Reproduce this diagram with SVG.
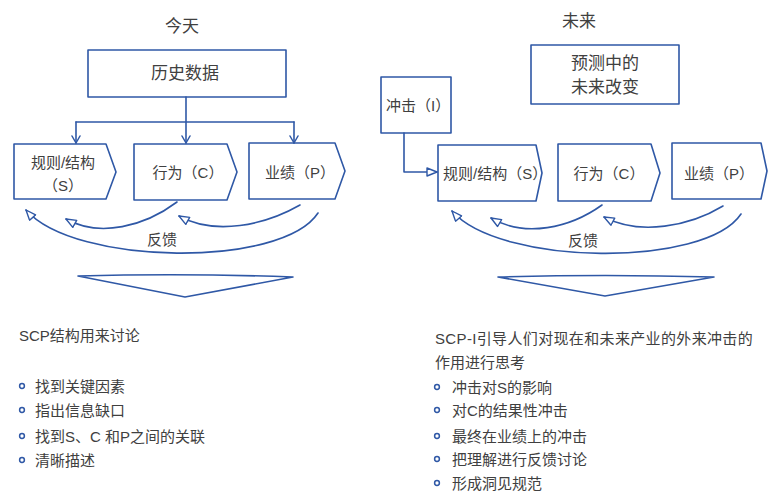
<svg xmlns="http://www.w3.org/2000/svg" width="774" height="498" viewBox="0 0 774 498">
<style>
  .shape { fill: #ffffff; stroke: #2f58a6; stroke-width: 1.6; stroke-linejoin: round; }
  .line { fill: none; stroke: #2f58a6; stroke-width: 1.6; stroke-linecap: round; stroke-linejoin: round; }
  .t { font-family: "Liberation Sans", "Noto Sans CJK SC", sans-serif; fill: #404040; }
  .f15 { font-size: 15px; }
  .f17 { font-size: 17px; }
  .mid { text-anchor: middle; }
  .dot { fill: #ffffff; stroke: #2f58a6; stroke-width: 1.5; }
</style>
<defs>
  <marker id="tri" viewBox="0 0 12 10" refX="11" refY="5" markerWidth="12" markerHeight="10" orient="auto" markerUnits="userSpaceOnUse">
    <path d="M1,1 L11,5 L1,9 Z" fill="#ffffff" stroke="#2f58a6" stroke-width="1.4" stroke-linejoin="round"/>
  </marker>
  <marker id="vee" viewBox="0 0 10 10" refX="9" refY="5" markerWidth="10" markerHeight="10" orient="auto" markerUnits="userSpaceOnUse">
    <path d="M2,1 L9,5 L2,9" fill="none" stroke="#2f58a6" stroke-width="1.5" stroke-linecap="round" stroke-linejoin="round"/>
  </marker>
</defs>
<rect width="774" height="498" fill="#ffffff"/>

<!-- Titles -->
<text class="t f17 mid" x="182" y="31.5">今天</text>
<text class="t f17 mid" x="579" y="26.5">未来</text>

<!-- Left diagram nodes -->
<g id="hist">
  <rect class="shape" x="88" y="50" width="198" height="47"/>
  <text class="t f17 mid" x="185" y="78.5">历史数据</text>
</g>
<g id="left-s">
  <path class="shape" d="M14,144 L106,144 L116,172 L106,199 L14,199 Z"/>
  <text class="t f15 mid" x="63" y="167.7">规则/结构</text>
  <text class="t f15 mid" x="63" y="190.7">（S）</text>
</g>
<g id="left-c">
  <path class="shape" d="M134,144 L227,144 L237,172 L227,200 L134,200 Z"/>
  <text class="t f15 mid" x="188" y="177.7">行为（C）</text>
</g>
<g id="left-p">
  <path class="shape" d="M249,143 L335,143 L345,171 L335,199 L249,199 Z"/>
  <text class="t f15 mid" x="300" y="177.7">业绩（P）</text>
</g>
<text class="t f15 mid" x="162" y="244.7">反馈</text>

<!-- Right diagram nodes -->
<g id="forecast">
  <rect class="shape" x="531" y="45" width="148" height="59"/>
  <text class="t f17 mid" x="605" y="68.5">预测中的</text>
  <text class="t f17 mid" x="605" y="92.5">未来改变</text>
</g>
<g id="impact">
  <rect class="shape" x="381" y="77" width="70" height="56"/>
  <text class="t f15" x="386" y="110.7">冲击（I）</text>
</g>
<g id="right-s">
  <path class="shape" d="M438,145 L536,145 L542,173 L536,201 L438,201 Z"/>
  <text class="t f15" x="443" y="178.7">规则/结构（S）</text>
</g>
<g id="right-c">
  <path class="shape" d="M558,144 L651,144 L660,173 L651,201 L558,201 Z"/>
  <text class="t f15 mid" x="609" y="178.7">行为（C）</text>
</g>
<g id="right-p">
  <path class="shape" d="M672,143 L761,143 L767,171 L761,199 L672,199 Z"/>
  <text class="t f15 mid" x="719" y="178.7">业绩（P）</text>
</g>
<text class="t f15 mid" x="583" y="245.7">反馈</text>

<!-- Connectors -->
<g id="connectors">
  <path class="line" d="M186,97 L186,143" marker-end="url(#vee)"/>
  <path class="line" d="M76,122 L294,122"/>
  <path class="line" d="M76,122 L76,143" marker-end="url(#vee)"/>
  <path class="line" d="M294,122 L294,143" marker-end="url(#vee)"/>
  <path class="line" d="M177,202 C145,226 100,238 66,219" marker-end="url(#tri)"/>
  <path class="line" d="M300,205 C265,225 215,236 179,216" marker-end="url(#tri)"/>
  <path class="line" d="M318,213 C282,268 75,266 26,210" marker-end="url(#tri)"/>
  <path class="line" d="M78,276 Q185,273 293,277 L185,297 Z"/>

  <path class="line" d="M404,133 L404,172 L437,172" marker-end="url(#tri)"/>
  <path class="line" d="M602,205 C570,228 525,238 491,218" marker-end="url(#tri)"/>
  <path class="line" d="M723,206 C690,226 640,236 604,217" marker-end="url(#tri)"/>
  <path class="line" d="M741,214 C705,268 500,266 452,211" marker-end="url(#tri)"/>
  <path class="line" d="M498,277 Q605,274 714,277 L605,296 Z"/>
</g>

<!-- Left text block -->
<g id="left-notes">
  <text class="t f15" x="19" y="340.7">SCP结构用来讨论</text>
  <circle class="dot" cx="22" cy="386" r="2.4"/>
  <text class="t f15" x="35" y="391.7">找到关键因素</text>
  <circle class="dot" cx="22" cy="410" r="2.4"/>
  <text class="t f15" x="35" y="415.7">指出信息缺口</text>
  <circle class="dot" cx="22" cy="436" r="2.4"/>
  <text class="t f15" x="35" y="441.7">找到S、C 和P之间的关联</text>
  <circle class="dot" cx="22" cy="460" r="2.4"/>
  <text class="t f15" x="35" y="465.7">清晰描述</text>
</g>

<!-- Right text block -->
<g id="right-notes">
  <text class="t f15" x="435" y="343.7" letter-spacing="0.35">SCP-I引导人们对现在和未来产业的外来冲击的</text>
  <text class="t f15" x="435" y="367.7">作用进行思考</text>
  <circle class="dot" cx="437" cy="387" r="2.4"/>
  <text class="t f15" x="452" y="392.7">冲击对S的影响</text>
  <circle class="dot" cx="437" cy="410" r="2.4"/>
  <text class="t f15" x="452" y="415.7">对C的结果性冲击</text>
  <circle class="dot" cx="437" cy="436" r="2.4"/>
  <text class="t f15" x="452" y="441.7">最终在业绩上的冲击</text>
  <circle class="dot" cx="437" cy="459" r="2.4"/>
  <text class="t f15" x="452" y="464.7">把理解进行反馈讨论</text>
  <circle class="dot" cx="437" cy="483" r="2.4"/>
  <text class="t f15" x="452" y="488.7">形成洞见规范</text>
</g>
</svg>
